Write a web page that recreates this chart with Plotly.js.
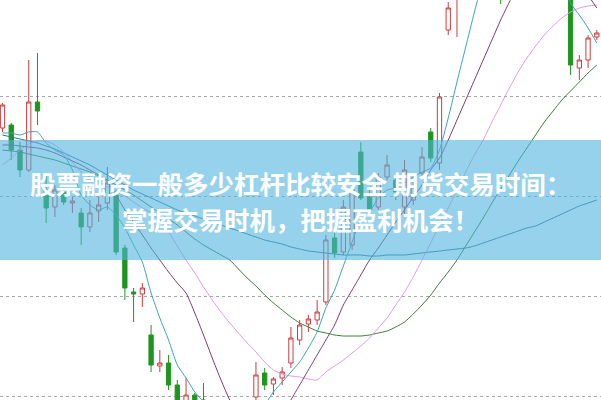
<!DOCTYPE html>
<html>
<head>
<meta charset="utf-8">
<script src="https://cdn.plot.ly/plotly-3.0.1.min.js"></script>
<style>html,body{margin:0;padding:0;background:#fff;}#chart{width:601px;height:400px;}</style>
</head>
<body>
<div id="chart"></div>
<script>
// candle index (trading days)
const days = Array.from({length: 69}, (_, i) => i);

const openP  = [27.2,27.5,25.0,23.0,29.8,21.0,19.3,20.8,19.7,18.7,17.3,18.9,19.7,20.5,15.2,10.8,10.6,6.5,3.4,3.7,1.5,-1.0,0.5,0.0,-2.0,-4.0,-6.2,-5.0,-3.0,0.3,2.7,1.6,2.2,3.7,6.0,7.6,8.0,9.8,16.2,14.8,15.5,24.8,20.3,19.3,22.3,22.0,19.3,20.0,22.7,26.8,23.7,37.0,40.5,44.0,47.0,49.5,48.0,51.0,47.5,50.0,52.0,50.5,53.0,51.5,49.0,45.0,33.2,34.0,36.3];
const highP  = [29.7,27.7,25.8,34.0,34.7,22.7,21.5,21.2,20.3,19.2,20.0,20.3,23.3,21.0,15.5,11.2,11.7,7.5,5.0,4.5,2.0,2.2,0.7,1.7,-0.5,-2.0,-3.0,-1.5,-0.5,3.8,3.2,2.3,3.3,7.3,8.0,8.5,10.0,16.5,17.0,20.0,21.7,25.8,21.0,22.7,24.5,22.5,24.0,22.0,25.3,27.2,30.7,39.8,45.0,48.0,50.5,51.0,52.0,52.0,51.5,53.0,53.5,54.0,54.5,52.0,50.0,46.0,34.5,36.5,37.0];
const lowP   = [26.8,24.0,22.3,22.8,27.5,17.7,18.3,19.5,18.7,15.5,16.8,17.8,19.0,14.5,10.0,7.8,9.3,2.8,2.8,1.0,-1.0,-1.5,-2.0,-4.0,-5.0,-7.0,-7.0,-6.0,-4.0,-0.5,1.0,0.5,1.5,3.2,5.5,6.8,7.5,9.5,14.2,14.5,15.0,20.0,18.5,19.0,22.0,20.0,18.3,19.5,22.2,23.8,23.0,36.5,36.3,41.0,45.5,47.0,47.5,39.6,46.5,49.0,49.5,50.0,50.5,48.0,45.0,32.5,32.0,33.2,36.0];
const closeP = [29.5,25.0,23.0,29.8,28.9,19.2,21.0,19.8,19.9,17.3,18.7,19.5,21.7,14.8,11.2,10.6,11.2,3.5,3.7,1.5,-0.2,0.5,-1.2,-3.0,-4.0,-6.0,-5.0,-3.0,-1.5,2.5,1.5,2.1,2.8,6.2,7.5,8.1,8.8,16.0,14.7,19.3,21.0,20.2,19.0,22.3,23.5,20.8,23.0,21.3,24.3,24.2,30.3,39.2,44.0,47.0,49.0,48.0,51.0,47.5,50.0,52.0,50.5,53.0,51.5,49.0,47.0,33.5,34.0,36.2,36.7];

const ma5  = [26.7,26.7,26.5,26.8,26.8,25.7,25.0,24.5,23.0,20.5,19.5,19.0,19.3,18.5,17.2,15.5,13.8,10.7,8.2,6.0,3.5,2.2,0.8,-0.2,-2.0,-3.5,-4.5,-4.5,-3.0,-1.8,-0.5,0.8,1.8,2.8,3.8,5.2,6.8,9.2,11.0,13.4,15.8,18.0,18.8,20.2,21.0,21.2,21.7,22.3,22.8,23.2,25.0,28.2,31.8,35.3,38.8,42.0,44.0,45.5,46.5,47.0,47.0,46.5,45.5,44.0,42.5,39.7,38.5,37.2,35.7];
const ma10 = [25.5,25.5,25.4,25.3,25.2,25.0,24.7,24.3,23.9,23.5,23.0,22.5,21.8,20.5,19.0,17.8,16.5,15.2,14.0,12.8,11.7,10.7,8.7,6.5,4.2,2.0,0.0,-1.5,-2.5,-3.0,-3.0,-2.5,-1.5,0.0,1.5,3.0,4.5,6.0,7.5,9.5,11.0,12.5,14.0,15.2,16.5,17.8,19.0,20.3,21.5,23.0,24.2,26.0,28.0,30.0,32.0,34.0,36.0,38.0,39.8,41.5,43.0,44.5,45.5,46.0,45.5,44.0,42.0,40.5,39.2];
const ma20 = [23.5,24.2,25.0,25.6,25.9,25.9,25.5,24.8,23.8,22.8,22.3,21.8,21.3,20.8,20.4,19.8,19.2,18.7,18.0,16.8,15.4,14.0,12.7,11.3,10.0,8.8,7.7,6.7,5.7,4.8,3.8,3.0,2.6,2.4,2.3,2.1,2.0,2.8,3.4,4.0,4.7,5.4,6.2,7.2,8.2,9.5,10.8,12.3,14.0,15.7,17.5,19.2,21.0,22.8,24.5,26.0,27.8,29.5,31.2,32.8,34.2,35.4,36.5,37.4,38.2,38.8,39.2,39.4,39.5];
const ma30 = [25.0,24.9,24.8,24.6,24.4,24.2,24.0,23.7,23.4,23.1,22.8,22.4,22.0,21.5,21.0,20.5,19.9,19.3,18.7,18.1,17.5,16.8,16.1,15.5,15.0,14.5,14.0,13.1,12.2,11.4,10.5,9.7,9.0,8.3,7.7,7.3,6.9,6.7,6.5,6.4,6.4,6.4,6.5,6.7,6.9,7.3,7.8,8.6,9.5,10.5,11.7,12.8,14.0,15.4,16.8,18.2,19.7,21.1,22.5,23.9,25.2,26.5,27.8,28.9,30.0,30.9,31.8,32.7,33.5];
const ma60 = [26.5,26.3,26.1,25.9,25.7,25.4,25.1,24.7,24.3,23.9,23.5,23.0,22.5,22.0,21.5,21.0,20.6,20.2,19.8,19.4,19.0,18.7,18.4,18.1,17.8,17.5,17.2,16.9,16.6,16.3,16.0,15.8,15.6,15.3,15.1,14.9,14.8,14.7,14.6,14.5,14.5,14.5,14.4,14.4,14.5,14.5,14.5,14.6,14.7,14.8,14.9,15.0,15.1,15.2,15.4,15.7,16.0,16.3,16.6,16.9,17.2,17.4,17.8,18.2,18.6,19.0,19.4,19.7,20.0];

const gridVals = [0.33, 10.33, 20.33, 30.33];
const bannerLine1 = "股票融资一般多少杠杆比较安全 期货交易时间：";
const bannerLine2 = "掌握交易时机，把握盈利机会！";

function maTrace(y, color) {
  return {type: 'scatter', mode: 'lines', x: days, y: y, hoverinfo: 'skip',
          line: {color: color, width: 1, shape: 'spline', smoothing: 0.6}};
}

const traces = [
  maTrace(ma60, '#2f7390'),
  maTrace(ma30, '#3d7a3d'),
  maTrace(ma20, '#e39be3'),
  maTrace(ma10, '#7b3a6e'),
  maTrace(ma5,  '#3ea3b3'),
  {
    type: 'candlestick', x: days, open: openP, high: highP, low: lowP, close: closeP,
    whiskerwidth: 0,
    increasing: {line: {color: '#d03c3c', width: 1}, fillcolor: '#ffffff'},
    decreasing: {line: {color: '#1e961e', width: 1}, fillcolor: '#1e961e'}
  }
];

const layout = {
  width: 601, height: 400,
  margin: {l: 0, r: 0, t: 0, b: 0},
  paper_bgcolor: '#ffffff', plot_bgcolor: '#ffffff',
  showlegend: false,
  xaxis: {range: [-0.286, 68.48], showgrid: false, zeroline: false, showticklabels: false,
          rangeslider: {visible: false}, fixedrange: true},
  yaxis: {range: [0, 40], tickvals: gridVals, showticklabels: false, zeroline: false,
          showgrid: true, gridcolor: '#a8a8a8', griddash: 'dot', gridwidth: 1, fixedrange: true},
  shapes: [{type: 'rect', xref: 'paper', yref: 'paper', x0: 0, x1: 1, y0: 0.35, y1: 0.65,
            fillcolor: 'rgba(80,180,222,0.6)', line: {width: 0}, layer: 'above'}],
  annotations: [
    {xref: 'paper', yref: 'paper', x: 0.5, y: 1 - 182/400, text: bannerLine1, showarrow: false,
     xanchor: 'center', yanchor: 'middle',
     font: {family: 'Noto Sans CJK SC', size: 25.5, color: '#ffffff', weight: 700}},
    {xref: 'paper', yref: 'paper', x: 0.5, y: 1 - 218/400, text: bannerLine2, showarrow: false,
     xanchor: 'center', yanchor: 'middle',
     font: {family: 'Noto Sans CJK SC', size: 25.5, color: '#ffffff', weight: 700}}
  ]
};

Plotly.newPlot('chart', traces, layout, {displayModeBar: false, staticPlot: true});
</script>
</body>
</html>
